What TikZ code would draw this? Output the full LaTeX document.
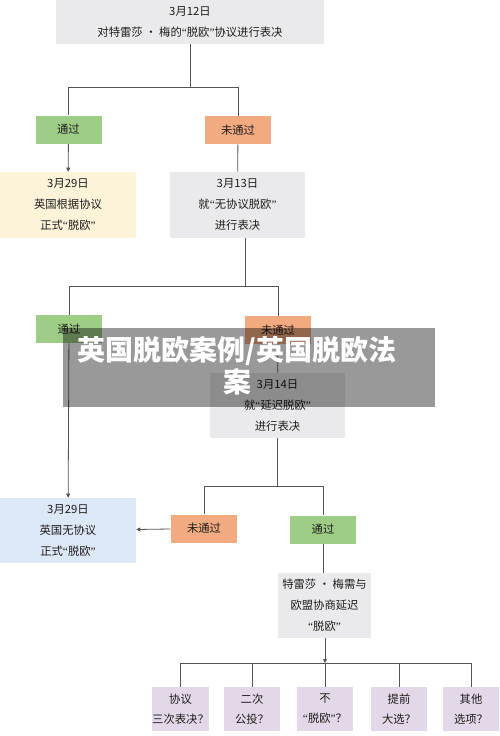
\documentclass[tikz,border=0pt]{standalone}
\usepackage{fontspec}
\newfontfamily\cjk{Noto Sans CJK SC}
\newfontfamily\quofont{Liberation Serif}
\newcommand\qo{{\quofont “}}
\newcommand\qc{{\quofont ”}}
\usetikzlibrary{arrows.meta}

\definecolor{boxgray}{RGB}{234,234,236}
\definecolor{passgreen}{RGB}{158,205,134}
\definecolor{failorange}{RGB}{242,170,128}
\definecolor{resyellow}{RGB}{253,243,216}
\definecolor{resblue}{RGB}{221,232,246}
\definecolor{optlilac}{RGB}{227,216,232}
\definecolor{linegray}{RGB}{85,85,85}
\definecolor{txtgray}{RGB}{30,30,30}

\tikzset{
  box/.style={rectangle, inner sep=0pt, align=center, text=txtgray,
    font=\cjk\fontsize{8.5}{15.75}\selectfont},
  tallbox/.style={box, minimum width=102pt, minimum height=49.5pt},
  tagbox/.style={box, minimum width=49.5pt, minimum height=21pt},
  passtag/.style={tagbox, fill=passgreen},
  failtag/.style={tagbox, fill=failorange},
  optbox/.style={box, fill=optlilac, minimum width=42pt, minimum height=33pt,
    font=\cjk\fontsize{8.5}{15}\selectfont},
  link/.style={draw=linegray, line width=0.6pt},
  linkarrow/.style={link, -{Triangle[length=3pt,width=3pt]}},
}

\begin{document}
\begin{tikzpicture}[x=0.75pt,y=0.75pt,yscale=-1,xscale=1]
\useasboundingbox (0,0) rectangle (500,736);
\fill[white] (0,0) rectangle (500,736);

%Shape: Rectangle
\node[box, fill=boxgray, minimum width=201pt, minimum height=33pt] (q12) at (190,22) {3月12日\\对特雷莎 · 梅的\qo 脱欧\qc 协议进行表决};
%Shape: Rectangle
\node[passtag] (pass1) at (68.5,129.5) {通过};
\node[failtag] (fail1) at (238,130) {未通过};
%Shape: Rectangle
\node[tallbox, fill=resyellow] (res1) at (68,205) {3月29日\\英国根据协议\\正式\qo 脱欧\qc};
\node[tallbox, fill=boxgray, minimum width=101.25pt] (q13) at (237.5,205) {3月13日\\就\qo 无协议脱欧\qc\\进行表决};
%Shape: Rectangle
\node[passtag] (pass2) at (69,329) {通过};
\node[failtag] (fail2) at (278,330) {未通过};
\node[tallbox, fill=boxgray, minimum width=101.25pt, minimum height=48.75pt] (q14) at (277.5,405.5) {3月14日\\就\qo 延迟脱欧\qc\\进行表决};
%Shape: Rectangle
\node[tallbox, fill=resblue, minimum height=48.75pt] (res2) at (68,530.5) {3月29日\\英国无协议\\正式\qo 脱欧\qc};
\node[failtag] (fail3) at (204,528.5) {未通过};
\node[passtag] (pass3) at (323,529.5) {通过};
\node[tallbox, fill=boxgray, minimum width=69.75pt, minimum height=48.75pt] (talk) at (324.5,605.5) {特雷莎 · 梅需与\\欧盟协商延迟\\\qo 脱欧\qc};
%Shape: Rectangle
\node[optbox] (opt1) at (180.5,709) {协议\\三次表决？};
\node[optbox] (opt2) at (252,709) {二次\\公投？};
\node[optbox] (opt3) at (325,709) {不\\\qo 脱欧\qc？};
\node[optbox] (opt4) at (399,709) {提前\\大选？};
\node[optbox] (opt5) at (471,709) {其他\\选项？};

%Straight Lines
\coordinate (j1) at (190,87);
\draw[link] (q12) -- (j1);
\draw[link] (j1) -| (pass1);
\draw[link] (j1) -| (fail1);
\draw[linkarrow] (pass1) -- (res1);
\draw[link] (fail1) -- (q13);
%Straight Lines
\coordinate (j2) at (245,286);
\draw[link] (q13.south -| j2) -- (j2);
\draw[link] (j2) -| (pass2);
\draw[link] (j2) -| (fail2);
\draw[linkarrow] (pass2) -- (res2);
\draw[link] (fail2) -- (q14);
%Straight Lines
\coordinate (j3) at (277.5,486);
\draw[link] (q14) -- (j3);
\draw[link] (j3) -| (fail3);
\draw[link] (j3) -| (pass3);
\draw[linkarrow] (fail3) -- (res2);
\draw[link] (pass3) -- (pass3 |- talk.north);
%Straight Lines
\coordinate (j4) at (325,663);
\draw[linkarrow] (talk.south -| j4) -- (j4);
\draw[link] (j4) -- (opt3);
\foreach \k in {1,2,4,5}
  \draw[link] (j4) -| (opt\k);

%Shape: Rectangle
\node[rectangle, fill=black, fill opacity=0.4, minimum width=279pt, minimum height=59.25pt] (titlebar) at (249,367.5) {};
% Text Node
\node[align=center, text=white, font=\cjk\bfseries\fontsize{21}{24}\selectfont] (title) at (237,366) {英国脱欧案例/英国脱欧法\\案};

\end{tikzpicture}
\end{document}
